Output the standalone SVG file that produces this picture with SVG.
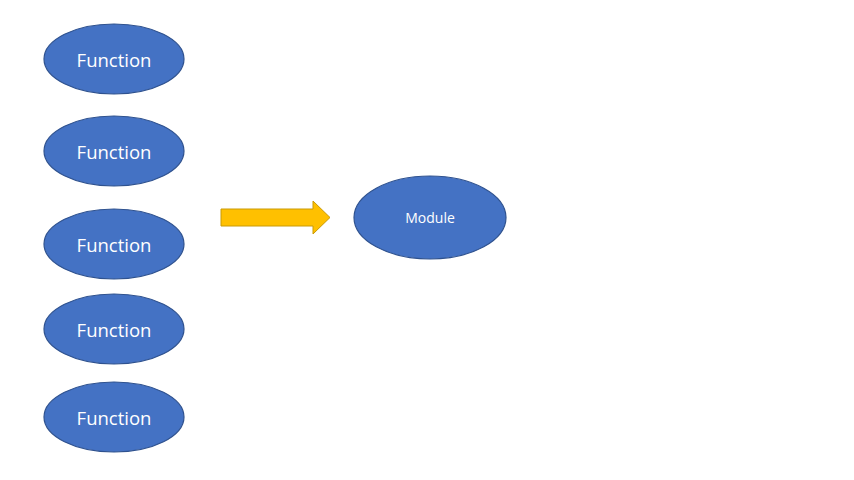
<svg xmlns="http://www.w3.org/2000/svg" width="854" height="480" viewBox="0 0 854 480">
<style>
.n{fill:#4472C4;stroke:#2F528F;stroke-width:1.2}
.t{fill:#FFFFFF;font-family:"Open Sans","Liberation Sans",sans-serif;text-anchor:middle;dominant-baseline:central}
.f{font-size:18.5px}
.m{font-size:14px}
</style>
<rect width="854" height="480" fill="#FFFFFF"/>
<g id="f1"><ellipse class="n" cx="114" cy="59" rx="70" ry="35"/><text class="t f" x="114" y="59">Function</text></g>
<g id="f2"><ellipse class="n" cx="114" cy="151" rx="70" ry="35"/><text class="t f" x="114" y="151">Function</text></g>
<g id="f3"><ellipse class="n" cx="114" cy="244" rx="70" ry="35"/><text class="t f" x="114" y="244">Function</text></g>
<g id="f4"><ellipse class="n" cx="114" cy="329" rx="70" ry="35"/><text class="t f" x="114" y="329">Function</text></g>
<g id="f5"><ellipse class="n" cx="114" cy="417" rx="70" ry="35"/><text class="t f" x="114" y="417">Function</text></g>
<g id="module"><ellipse class="n" cx="430" cy="217.5" rx="76" ry="41.5"/><text class="t m" x="430" y="217.5">Module</text></g>
<g id="connectors">
<polygon points="221,209 313,209 313,201 330,217.5 313,234 313,226 221,226" fill="#FFC000" stroke="#C99A06" stroke-width="1"/>
</g>
</svg>
